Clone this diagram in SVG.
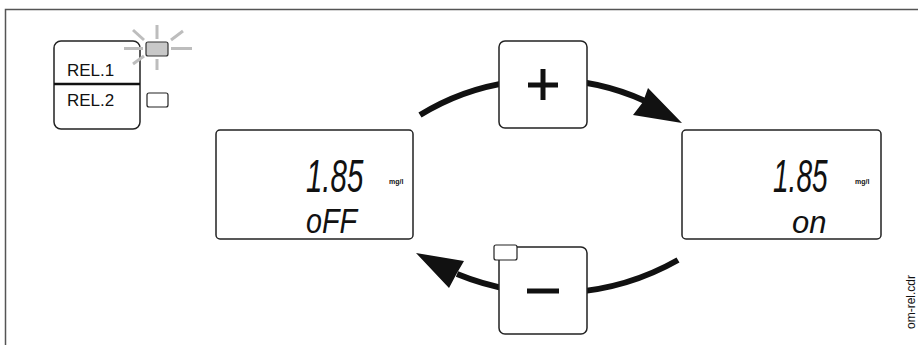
<svg xmlns="http://www.w3.org/2000/svg" width="918" height="345" viewBox="0 0 918 345">
<style>
.box{fill:#fff;stroke:#222;stroke-width:1.5}
.lbl{font-family:"Liberation Sans",Arial,sans-serif;fill:#111}
.seg{font-family:"Liberation Sans",Arial,sans-serif;font-style:italic;fill:#111}
.unit{font-family:"Liberation Sans Narrow","Liberation Sans",Arial,sans-serif;font-size:7px;font-weight:bold;fill:#111}
.ray{stroke:#bdbdbd;stroke-width:3;stroke-linecap:butt}
.shaft{fill:none;stroke:#111;stroke-width:6}
.sign{stroke:#111;stroke-width:5}
</style>
<rect width="918" height="345" fill="#fff"/>
<path d="M5.5,345 V9.5 H918" fill="none" stroke="#555" stroke-width="1.5"/>
<g id="connectors">
<path class="shaft" d="M420,115 A241,241 0 0 1 645,101"/>
<polygon points="682,123 648,88 643,102 633,115" fill="#111"/>
<path class="shaft" d="M678,260 A253,253 0 0 1 457,274"/>
<polygon points="416,253 464,261 457,273 449,288" fill="#111"/>
</g>
<g id="relay-panel">
<rect class="box" x="54" y="41" width="86" height="88" rx="7"/>
<line x1="54" y1="84" x2="140" y2="84" stroke="#111" stroke-width="2.5"/>
<text class="lbl" x="67" y="76" font-size="17">REL.1</text>
<text class="lbl" x="67" y="106" font-size="17">REL.2</text>
</g>
<g id="led-rel1">
<line class="ray" x1="124" y1="48.5" x2="143" y2="48.5"/>
<line class="ray" x1="171" y1="48.5" x2="192" y2="48.5"/>
<line class="ray" x1="157" y1="25" x2="157" y2="39"/>
<line class="ray" x1="157" y1="59" x2="157" y2="70"/>
<line class="ray" x1="133" y1="30" x2="144" y2="40"/>
<line class="ray" x1="183" y1="31" x2="171" y2="40"/>
<line class="ray" x1="133" y1="64" x2="144" y2="56"/>
<rect x="146" y="42" width="22" height="14" rx="2" fill="#c8c8c8" stroke="#333" stroke-width="1.2"/>
</g>
<g id="led-rel2">
<rect x="147" y="93" width="21" height="14" rx="2" fill="#fff" stroke="#222" stroke-width="1.2"/>
</g>
<g id="display-off">
<rect class="box" x="216" y="130" width="197" height="109" rx="4"/>
<text class="seg" transform="translate(306,192) scale(0.64,1)" font-size="46">1.85</text>
<text class="unit" x="389" y="184">mg/l</text>
<text class="seg" transform="translate(306,233) scale(0.82,1)" font-size="35">oFF</text>
</g>
<g id="display-on">
<rect class="box" x="682" y="130" width="199" height="109" rx="4"/>
<text class="seg" transform="translate(773,192) scale(0.61,1)" font-size="46">1.85</text>
<text class="unit" x="855" y="184">mg/l</text>
<text class="seg" x="792" y="233" font-size="31">on</text>
</g>
<g id="plus-button">
<rect class="box" x="499" y="41" width="88" height="87" rx="6"/>
<line class="sign" x1="528" y1="85" x2="558" y2="85"/>
<line class="sign" x1="543" y1="69" x2="543" y2="100"/>
</g>
<g id="minus-button">
<rect class="box" x="499" y="247" width="88" height="87" rx="6"/>
<line class="sign" x1="527" y1="291" x2="559" y2="291"/>
<rect x="494" y="245" width="23" height="15" rx="2" fill="#fff" stroke="#222" stroke-width="1.2"/>
</g>
<text class="lbl" transform="translate(915,329) rotate(-90)" font-size="12" fill="#444">om-rel.cdr</text>
</svg>
